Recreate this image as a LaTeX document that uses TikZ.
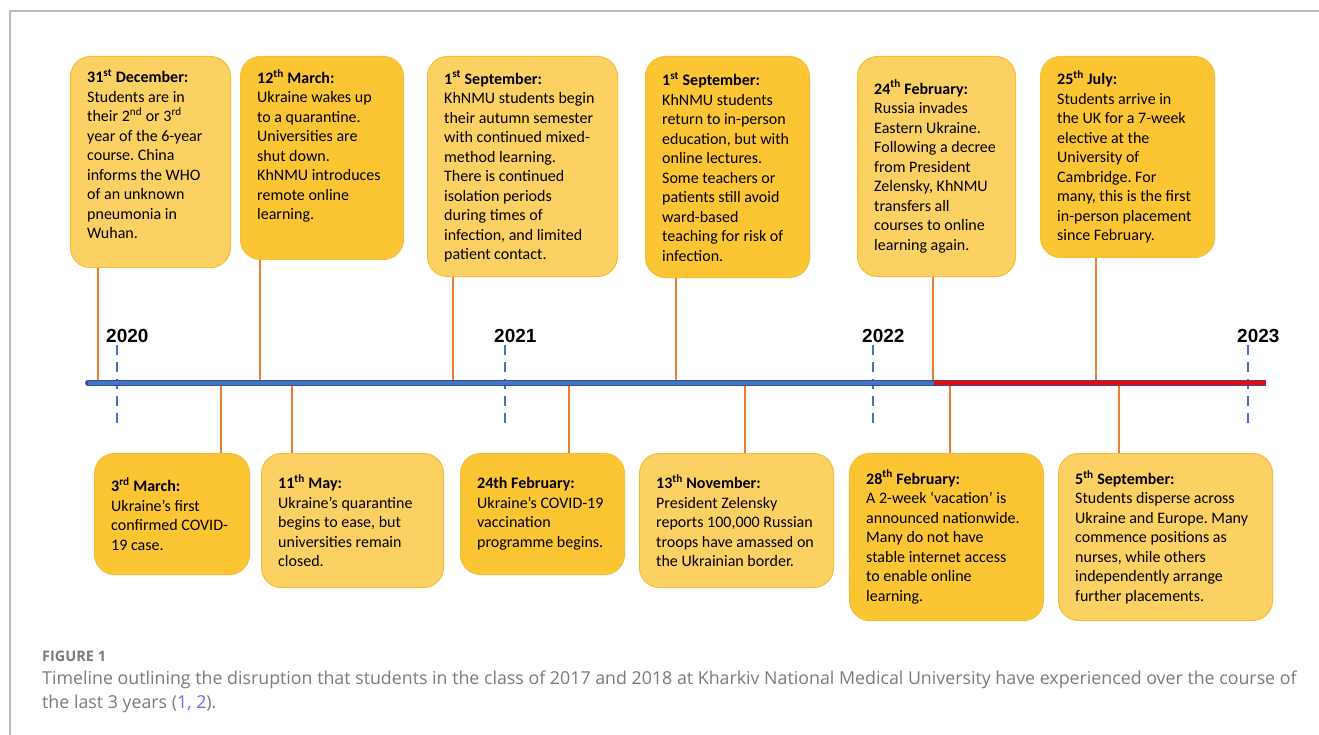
\documentclass[tikz,border=0pt]{standalone}
\usepackage{fontspec}
\newfontfamily\evfam{Carlito}
\newfontfamily\yearfam{Liberation Sans}
\newfontfamily\capfam{Open Sans}
\newcommand{\evfont}{\evfam\fontsize{16}{19.5}\selectfont\frenchspacing}
\newcommand{\yearfont}{\yearfam\bfseries\fontsize{19}{22}\selectfont}
\definecolor{lite}{HTML}{FCD163}
\definecolor{dark}{HTML}{FBC534}
\definecolor{boxline}{HTML}{F3BD36}
\definecolor{stemc}{HTML}{ED7D31}
\definecolor{tickc}{HTML}{4472C4}
\definecolor{tlblue}{HTML}{4472C4}
\definecolor{tledge}{HTML}{2F528F}
\definecolor{capgray}{HTML}{7A7A7A}
\definecolor{refblue}{HTML}{6A6AE8}
\definecolor{framec}{HTML}{BBBBBB}
\begin{document}
\begin{tikzpicture}[x=1pt,y=-1pt,
    evbox/.style={draw=boxline,line width=1pt,rounded corners=20pt,anchor=north west},
    evtext/.style={anchor=west,xshift=17pt,inner sep=0pt,align=left,font=\evfont},
    stem/.style={draw=stemc,line width=2pt},
    yeartick/.style={draw=tickc,line width=2pt,dash pattern=on 10pt off 7pt},
    year/.style={anchor=base west,inner sep=0pt,font=\yearfont}]
    \useasboundingbox (0,0) rectangle (1319,735);
    \draw[framec,line width=1.5pt] (10,735) -- (10,11) -- (1319,11);
    \begin{scope}[every node/.style={evbox}]
        \node (b1) [fill=lite,minimum width=160pt,minimum height=211pt] at (70,56) {};
        \node (b2) [fill=dark,minimum width=163pt,minimum height=203pt] at (240,56) {};
        \node (b3) [fill=lite,minimum width=190pt,minimum height=220pt] at (427,56) {};
        \node (b4) [fill=dark,minimum width=164pt,minimum height=221pt] at (645,56) {};
        \node (b5) [fill=lite,minimum width=158pt,minimum height=220pt] at (857,56) {};
        \node (b6) [fill=dark,minimum width=174pt,minimum height=201pt] at (1040,56) {};
        \node (b7) [fill=dark,minimum width=155pt,minimum height=121pt] at (94,453) {};
        \node (b8) [fill=lite,minimum width=182pt,minimum height=134pt] at (261,453) {};
        \node (b9) [fill=dark,minimum width=164pt,minimum height=121pt] at (460,453) {};
        \node (b10) [fill=lite,minimum width=194pt,minimum height=134pt] at (639,453) {};
        \node (b11) [fill=dark,minimum width=194pt,minimum height=167pt] at (849,453) {};
        \node (b12) [fill=lite,minimum width=214pt,minimum height=167pt] at (1058,453) {};
    \end{scope}
    \begin{scope}[every node/.style={evtext}]
        \node (t1) [yshift=8pt] at (b1.west)
            {\textbf{31\textsuperscript{st} December:}\\Students are in\\their 2\textsuperscript{nd} or 3\textsuperscript{rd}\\year of the 6-year\\course. China\\informs the WHO\\of an unknown\\pneumonia in\\Wuhan.};
        \node (t2) [yshift=12pt] at (b2.west)
            {\textbf{12\textsuperscript{th} March:}\\Ukraine wakes up\\to a quarantine.\\Universities are\\shut down.\\KhNMU introduces\\remote online\\learning.};
        \node (t3) at (b3.west)
            {\textbf{1\textsuperscript{st} September:}\\KhNMU students begin\\their autumn semester\\with continued mixed-\\method learning.\\There is continued\\isolation periods\\during times of\\infection, and limited\\patient contact.};
        \node (t4) at (b4.west)
            {\textbf{1\textsuperscript{st} September:}\\KhNMU students\\return to in-person\\education, but with\\online lectures.\\Some teachers or\\patients still avoid\\ward-based\\teaching for risk of\\infection.};
        \node (t5) at (b5.west)
            {\textbf{24\textsuperscript{th} February:}\\Russia invades\\Eastern Ukraine.\\Following a decree\\from President\\Zelensky, KhNMU\\transfers all\\courses to online\\learning again.};
        \node (t6) at (b6.west)
            {\textbf{25\textsuperscript{th} July:}\\Students arrive in\\the UK for a 7-week\\elective at the\\University of\\Cambridge. For\\many, this is the first\\in-person placement\\since February.};
        \node (t7) at (b7.west)
            {\textbf{3\textsuperscript{rd} March:}\\Ukraine’s first\\confirmed COVID-\\19 case.};
        \node (t8) at (b8.west)
            {\textbf{11\textsuperscript{th} May:}\\Ukraine’s quarantine\\begins to ease, but\\universities remain\\closed.};
        \node (t9) at (b9.west)
            {\textbf{24th February:}\\Ukraine’s COVID-19\\vaccination\\programme begins.};
        \node (t10) at (b10.west)
            {\textbf{13\textsuperscript{th} November:}\\President Zelensky\\reports 100,000 Russian\\troops have amassed on\\the Ukrainian border.};
        \node (t11) at (b11.west)
            {\textbf{28\textsuperscript{th} February:}\\A 2-week ‘vacation’ is\\announced nationwide.\\Many do not have\\stable internet access\\to enable online\\learning.};
        \node (t12) at (b12.west)
            {\textbf{5\textsuperscript{th} September:}\\Students disperse across\\Ukraine and Europe. Many\\commence positions as\\nurses, while others\\independently arrange\\further placements.};
    \end{scope}
    \foreach \yr/\x in {2020/117,2021/505,2022/873,2023/1248} {
        \node (y\yr) [year] at (\x-11,342) {\yr};
        \coordinate (k\yr) at (\x,428);
        \draw[yeartick] (y\yr.south -| k\yr) ++(0,3) -- (k\yr);
    }
    \foreach \b/\x in {b1/98,b2/260,b3/453,b4/676,b5/933,b6/1096} {
        \coordinate (s\b) at (\x,383);
        \draw[stem] (\b.south -| s\b) -- (s\b);
    }
    \foreach \b/\x in {b7/221,b8/292,b9/569,b10/745,b11/950,b12/1119} {
        \coordinate (s\b) at (\x,383);
        \draw[stem] (\b.north -| s\b) -- (s\b);
    }
    \coordinate (ts) at (88,383);
    \coordinate (tw) at (934,383);
    \coordinate (te) at (1266,383);
    \draw[tledge,line width=6pt,line cap=round] (ts) -- (tw);
    \draw[tlblue,line width=4pt] (ts) -- (tw);
    \draw[tledge,line width=6pt] (tw) -- (te);
    \draw[red,line width=4pt] (tw) -- (te);
    \node (fig) [anchor=base west,inner sep=0pt,text=capgray,font=\capfam\bfseries\fontsize{14.5}{16}\selectfont] at (42,661) {FIGURE 1};
    \node (cap) [anchor=north west,inner sep=0pt,align=left,text=capgray,font=\capfam\fontsize{17.8}{24}\selectfont] at (42,671)
        {Timeline outlining the disruption that students in the class of 2017 and 2018 at Kharkiv National Medical University have experienced over the course of\\the last 3 years ({\color{refblue}1, 2}).};
\end{tikzpicture}
\end{document}
